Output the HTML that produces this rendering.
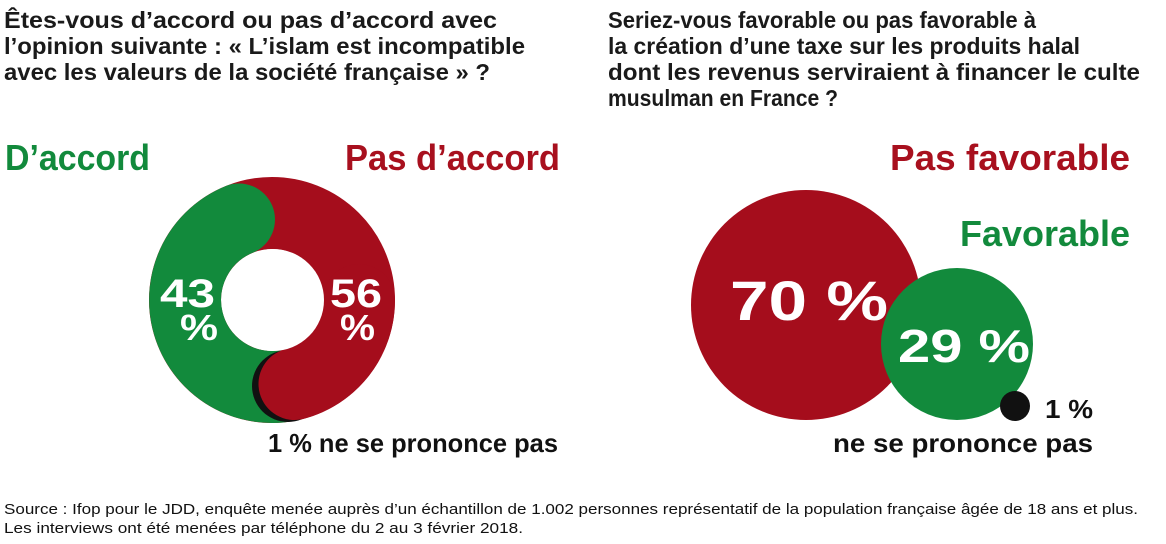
<!DOCTYPE html>
<html><head><meta charset="utf-8"><style>
html,body{margin:0;padding:0;background:#fff;}
svg{display:block;}
text{font-family:"Liberation Sans",sans-serif;}
.t{font-weight:bold;font-size:23px;fill:#1a1a1a;}
.h{font-weight:bold;font-size:36px;}
.w{font-weight:bold;fill:#fff;}
.s{font-size:15px;fill:#111;}
</style></head><body>
<svg width="1166" height="544" viewBox="0 0 1166 544" xmlns="http://www.w3.org/2000/svg">
<text class="t" x="4" y="28" textLength="493" lengthAdjust="spacingAndGlyphs">Êtes-vous d’accord ou pas d’accord avec</text>
<text class="t" x="4" y="54" textLength="521" lengthAdjust="spacingAndGlyphs">l’opinion suivante : « L’islam est incompatible</text>
<text class="t" x="4" y="80" textLength="486" lengthAdjust="spacingAndGlyphs">avec les valeurs de la société française » ?</text>
<text class="t" x="608" y="28" textLength="428" lengthAdjust="spacingAndGlyphs">Seriez-vous favorable ou pas favorable à</text>
<text class="t" x="608" y="54" textLength="472" lengthAdjust="spacingAndGlyphs">la création d’une taxe sur les produits halal</text>
<text class="t" x="608" y="80" textLength="532" lengthAdjust="spacingAndGlyphs">dont les revenus serviraient à financer le culte</text>
<text class="t" x="608" y="106" textLength="230" lengthAdjust="spacingAndGlyphs">musulman en France ?</text>

<text class="h" x="5" y="170" fill="#128a3c" textLength="145" lengthAdjust="spacingAndGlyphs">D’accord</text>
<text class="h" x="345" y="170" fill="#a8101e" textLength="215" lengthAdjust="spacingAndGlyphs">Pas d’accord</text>
<text class="h" x="890" y="170" fill="#a8101e" textLength="240" lengthAdjust="spacingAndGlyphs">Pas favorable</text>
<text class="h" x="960" y="246" fill="#128a3c" textLength="170" lengthAdjust="spacingAndGlyphs">Favorable</text>

<!-- donut -->
<circle cx="272" cy="300" r="87" fill="none" stroke="#a50d1c" stroke-width="72"/>
<path d="M 239 219.5 A 87 87 0 0 0 280 386.6" fill="none" stroke="#128a3c" stroke-width="72" stroke-linecap="round"/>
<circle cx="288" cy="386" r="36" fill="#111"/>
<path d="M 294.5 384 A 87 87 0 0 0 359 300" fill="none" stroke="#a50d1c" stroke-width="72" stroke-linecap="round"/>
<circle cx="273" cy="300" r="51" fill="#fff"/>
<text class="w" x="160" y="307" font-size="40" textLength="55" lengthAdjust="spacingAndGlyphs">43</text>
<text class="w" x="180" y="340" font-size="36" textLength="38" lengthAdjust="spacingAndGlyphs">%</text>
<text class="w" x="330" y="307" font-size="40" textLength="52" lengthAdjust="spacingAndGlyphs">56</text>
<text class="w" x="340" y="340" font-size="36" textLength="35" lengthAdjust="spacingAndGlyphs">%</text>
<text x="268" y="452" font-weight="bold" font-size="26" fill="#111" textLength="290" lengthAdjust="spacingAndGlyphs">1 % ne se prononce pas</text>

<!-- bubbles -->
<circle cx="806" cy="305" r="115" fill="#a50d1c"/>
<circle cx="957" cy="344" r="76" fill="#128a3c"/>
<circle cx="1015" cy="406" r="15" fill="#111"/>
<text class="w" x="730" y="320" font-size="56" textLength="158" lengthAdjust="spacingAndGlyphs">70 %</text>
<text class="w" x="898" y="362" font-size="46" textLength="132" lengthAdjust="spacingAndGlyphs">29 %</text>
<text x="1045" y="418" font-weight="bold" font-size="26" fill="#111" textLength="48" lengthAdjust="spacingAndGlyphs">1 %</text>
<text x="833" y="452" font-weight="bold" font-size="26" fill="#111" textLength="260" lengthAdjust="spacingAndGlyphs">ne se prononce pas</text>

<text class="s" x="4" y="514" textLength="1134" lengthAdjust="spacingAndGlyphs">Source : Ifop pour le JDD, enquête menée auprès d’un échantillon de 1.002 personnes représentatif de la population française âgée de 18 ans et plus.</text>
<text class="s" x="4" y="533" textLength="519" lengthAdjust="spacingAndGlyphs">Les interviews ont été menées par téléphone du 2 au 3 février 2018.</text>
</svg>
</body></html>
